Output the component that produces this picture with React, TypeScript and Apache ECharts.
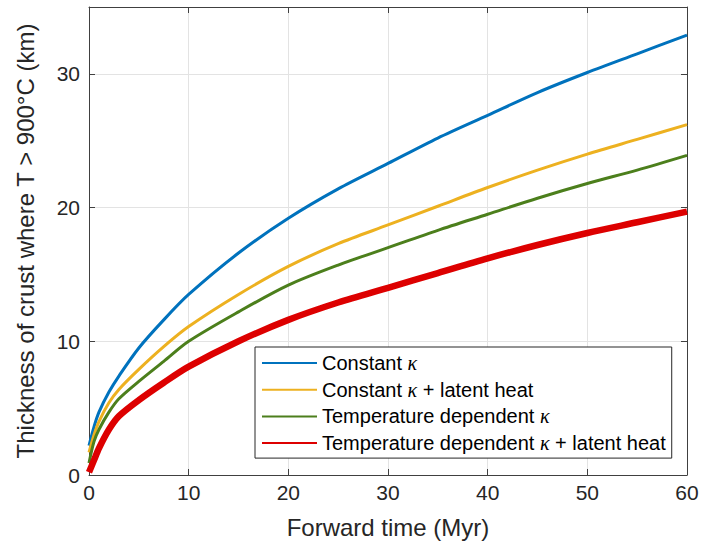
import React, { useEffect, useRef } from "react";
import * as echarts from "echarts";

const timeMyr = [0, 0.5, 1, 2, 3, 5, 7.5, 10, 15, 20, 25, 30, 35, 40, 45, 50, 55, 60];
const constKappa = [2.2, 3.6, 4.7, 6.2, 7.4, 9.5, 11.6, 13.5, 16.6, 19.2, 21.4, 23.3, 25.2, 26.9, 28.6, 30.1, 31.5, 32.9];
const constKappaLatent = [1.7, 3.0, 4.0, 5.4, 6.4, 7.9, 9.6, 11.1, 13.5, 15.6, 17.3, 18.7, 20.1, 21.5, 22.8, 24.0, 25.1, 26.2];
const tempKappa = [0.9, 2.5, 3.4, 4.7, 5.7, 7.0, 8.5, 10.0, 12.2, 14.2, 15.7, 17.0, 18.3, 19.5, 20.7, 21.8, 22.8, 23.9];
const tempKappaLatent = [0.2, 1.1, 2.0, 3.4, 4.4, 5.6, 6.9, 8.1, 10.0, 11.6, 12.9, 14.0, 15.1, 16.2, 17.2, 18.1, 18.9, 19.7];

const seriesNames = [
  "Constant κ",
  "Constant κ + latent heat",
  "Temperature dependent κ",
  "Temperature dependent κ + latent heat",
];
const seriesValues = [constKappa, constKappaLatent, tempKappa, tempKappaLatent];
const seriesColors = ["#0072BD", "#EDB120", "#4C7F1C", "#DD0000"];
const seriesWidths = [3, 3, 3, 6.5];

const xTitle = "Forward time (Myr)";
const yTitle = "Thickness of crust where T > 900°C (km)";

const FONT = "'Liberation Sans', Arial, Helvetica, sans-serif";
const AXIS_COLOR = "#404040";

export default function App() {
  const ref = useRef<HTMLDivElement>(null);
  useEffect(() => {
    if (!ref.current) return;
    const chart = echarts.init(ref.current, undefined, { renderer: "svg" });
    const axisCommon = {
      axisLine: { show: true, onZero: false, lineStyle: { color: AXIS_COLOR, width: 1 } },
      axisTick: { show: true, inside: true, length: 6, lineStyle: { color: AXIS_COLOR, width: 1 } },
    };
    chart.setOption({
      animation: false,
      backgroundColor: "#ffffff",
      grid: { left: 89, right: 15, top: 7, bottom: 73, containLabel: false },
      legend: {
        orient: "vertical",
        left: 255,
        top: 347,
        backgroundColor: "#ffffff",
        borderColor: "#262626",
        borderWidth: 1,
        borderRadius: 0,
        padding: [6, 6, 5, 6],
        itemWidth: 55,
        itemHeight: 14,
        itemGap: 6.7,
        itemStyle: { opacity: 0 },
        data: seriesNames,
        formatter: (name: string) => name.replace("κ", "{k|κ}"),
        textStyle: {
          fontFamily: FONT,
          fontSize: 20,
          lineHeight: 20,
          color: "#000000",
          rich: {
            k: {
              fontFamily: "'Liberation Serif', 'DejaVu Serif', serif",
              fontStyle: "italic",
              fontSize: 20,
              lineHeight: 20,
              color: "#000000",
            },
          },
        },
      },
      xAxis: [
        {
          type: "value",
          min: 0,
          max: 60,
          interval: 10,
          position: "bottom",
          name: xTitle,
          nameLocation: "middle",
          nameGap: 40,
          nameTextStyle: { fontFamily: FONT, fontSize: 24, color: "#262626" },
          ...axisCommon,
          axisLabel: { fontFamily: FONT, fontSize: 21, color: "#262626", margin: 7 },
          splitLine: { show: true, lineStyle: { color: "#e3e3e3", width: 1 } },
        },
        {
          type: "value",
          min: 0,
          max: 60,
          interval: 10,
          position: "top",
          ...axisCommon,
          axisLabel: { show: false },
          splitLine: { show: false },
        },
      ],
      yAxis: [
        {
          type: "value",
          min: 0,
          max: 35,
          interval: 10,
          position: "left",
          name: yTitle,
          nameLocation: "middle",
          nameGap: 52,
          nameTextStyle: { fontFamily: FONT, fontSize: 24, color: "#262626" },
          ...axisCommon,
          axisLabel: { fontFamily: FONT, fontSize: 21, color: "#262626", margin: 9, showMaxLabel: false },
          splitLine: { show: true, lineStyle: { color: "#e3e3e3", width: 1 } },
        },
        {
          type: "value",
          min: 0,
          max: 35,
          interval: 10,
          position: "right",
          ...axisCommon,
          axisLabel: { show: false },
          splitLine: { show: false },
        },
      ],
      series: seriesNames.map((name, i) => ({
        name,
        type: "line",
        xAxisIndex: 0,
        yAxisIndex: 0,
        smooth: 0.3,
        symbol: "none",
        showSymbol: false,
        color: seriesColors[i],
        lineStyle: { color: seriesColors[i], width: seriesWidths[i] },
        data: timeMyr.map((t, j) => [t, seriesValues[i][j]]),
        z: 2 + i,
      })),
    });
    return () => chart.dispose();
  }, []);
  return (
    <div
      ref={ref}
      style={{ position: "absolute", left: 0, top: 0, width: 702, height: 548 }}
    />
  );
}
